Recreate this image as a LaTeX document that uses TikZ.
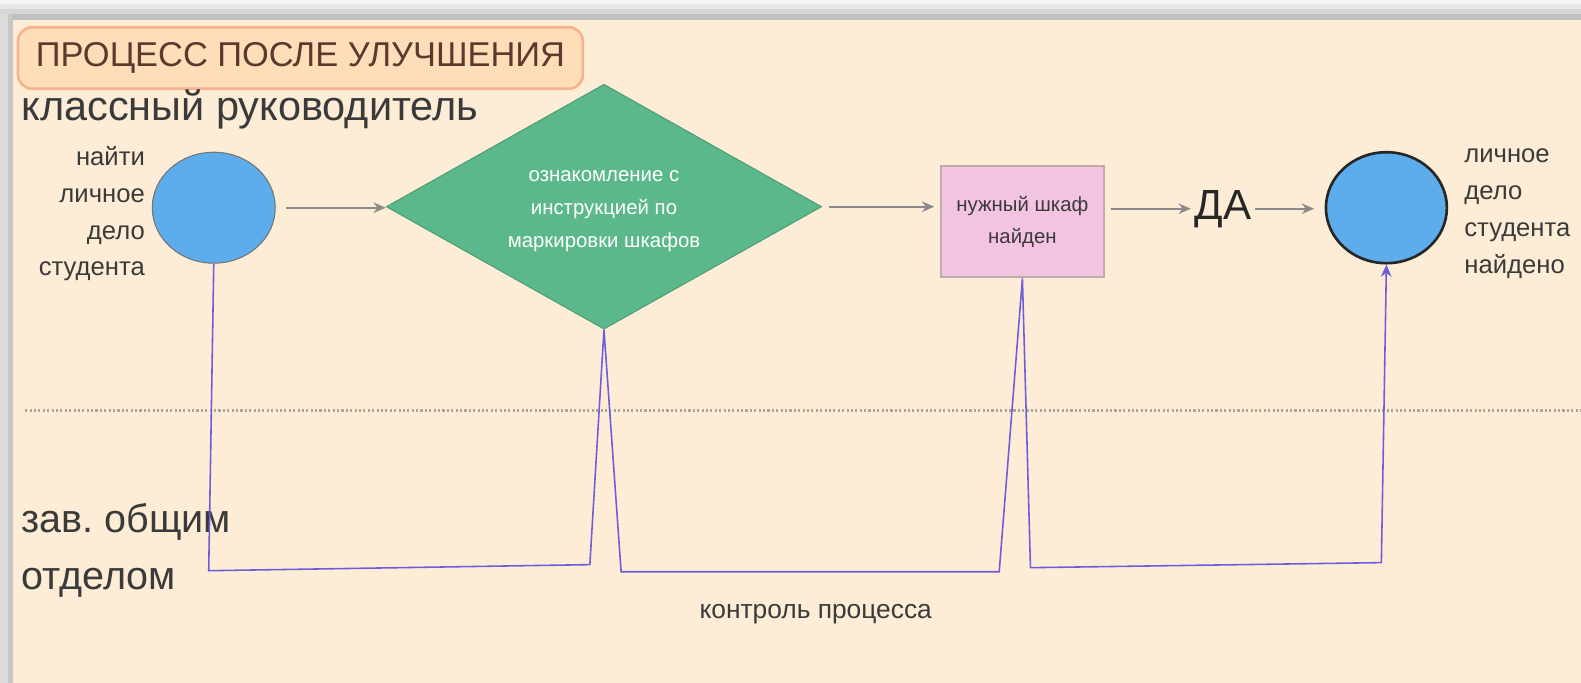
\documentclass[tikz,border=0pt]{standalone}
\usepackage{fontspec}
\setmainfont{Liberation Sans}
\frenchspacing
\usetikzlibrary{arrows.meta, positioning, shapes.geometric}
\definecolor{paper}{HTML}{FEEDD6}
\definecolor{framegray}{HTML}{DCDCDC}
\definecolor{titlefill}{HTML}{FFDDB9}
\definecolor{titledraw}{HTML}{F7B48C}
\definecolor{titletext}{HTML}{5A3A2C}
\definecolor{textdark}{HTML}{3A3A3A}
\definecolor{circfill}{HTML}{5DADEC}
\definecolor{diafill}{HTML}{5BB88B}
\definecolor{diadraw}{HTML}{4E9E76}
\definecolor{boxfill}{HTML}{F2C4E2}
\definecolor{boxdraw}{HTML}{BDAAAA}
\definecolor{arrowgray}{HTML}{8A8A8A}
\definecolor{ctrlpurple}{HTML}{6F5CDC}
\definecolor{dotgray}{HTML}{ABA395}

\begin{document}
\begin{tikzpicture}[x=0.020166cm, y=-0.020178cm,
  flow/.style={-{Stealth[length=7pt, width=6pt]}, draw=arrowgray, line width=1.2pt},
  ctrl/.style={draw=ctrlpurple, line width=0.9pt},
  side/.style={inner sep=0pt, text=textdark, font=\fontsize{14.6}{21}\selectfont},
  lane/.style={inner sep=0pt, anchor=west, text=textdark, align=left,
               font=\fontsize{22.5}{32}\selectfont}]
  \useasboundingbox (0,0) rectangle (1568,677);
  % window frame
  \fill[framegray] (0,0) rectangle (1568,677);
  \fill[black!4] (0,0) rectangle (1568,4);
  \fill[black!9] (0,4) rectangle (1568,9);
  \fill[black!16] (0,9) rectangle (1568,14);
  \fill[black!25] (8,14) rectangle (1568,20);
  \fill[black!22] (8,14) rectangle (13,677);
  \fill[paper] (13,20) rectangle (1568,677);

  \node[draw=titledraw, line width=1.5pt, rounded corners=8pt, fill=titlefill,
        minimum width=11.3cm, minimum height=1.23cm, text=titletext,
        font=\fontsize{19.6}{21}\selectfont] (title) at (298,57.5)
    {ПРОЦЕСС ПОСЛЕ УЛУЧШЕНИЯ};
  \node[lane, font=\fontsize{23.6}{25}\selectfont] (teacher) at (21,109)
    {классный руководитель};
  \node[lane] (head) at (21,546) {зав. общим\\отделом};

  \draw[dotgray, line width=1.6pt, dash pattern=on 1.2pt off 1.3pt]
    (25,407) -- (1568,407);

  % main flow
  \node[ellipse, draw=black!55, line width=0.6pt, fill=circfill,
        minimum width=2.46cm, minimum height=2.22cm] (start) at (212,206) {};
  \node[side, anchor=east, align=right] (startlbl) at (144,212)
    {найти\\личное\\дело\\студента};
  \node[diamond, aspect=1.78, draw=diadraw, line width=0.6pt, fill=diafill,
        inner sep=0pt, minimum width=8.71cm, minimum height=4.9cm, text=white,
        align=center, font=\fontsize{11.6}{18.8}\selectfont] (read) at (599,205)
    {\\[-8pt]ознакомление с\\инструкцией по\\маркировки шкафов};
  \node[draw=boxdraw, line width=1.3pt, fill=boxfill, minimum width=3.27cm,
        minimum height=2.22cm, align=center, text=textdark,
        font=\fontsize{11.6}{18.5}\selectfont] (found) at (1014,220)
    {нужный шкаф\\найден};
  \node[text=black!85, font=\fontsize{24}{26}\selectfont, inner sep=2pt] (yes)
    at (1213,207) {ДА};
  \node[ellipse, draw=black!85, line width=1.5pt, fill=circfill,
        minimum width=2.42cm, minimum height=2.22cm] (done) at (1375,206) {};
  \node[side, anchor=west, align=left] (donelbl) at (1452,212)
    {личное\\дело\\студента\\найдено};

  \draw[flow] ([xshift=6pt]start.east) -- (read.west |- start.east);
  \draw[flow] ([xshift=4pt]read.east) -- ([xshift=-3pt]found.west |- read.east);
  \draw[flow] ([xshift=3pt]found.east |- yes.west) -- (yes.west);
  \draw[flow] (yes.east) -- ([xshift=-6pt]done.west |- yes.east);

  % control line
  \coordinate (k1) at (207,566);
  \coordinate (k2) at (585,560);
  \coordinate (k3) at (616,567);
  \coordinate (k4) at (991,567);
  \coordinate (k5) at (1022,563);
  \coordinate (k6) at (1370,558);
  \draw[ctrl, -{Stealth[length=7pt, width=6pt]}]
    (start.south) -- (k1) -- (k2) -- (read.south) -- (k3) -- (k4)
    -- (found.south) -- (k5) -- (k6) -- (done.south);
  \node[text=textdark, font=\fontsize{15}{17}\selectfont] (ctrllbl) at (809,609)
    {контроль процесса};
\end{tikzpicture}
\end{document}
